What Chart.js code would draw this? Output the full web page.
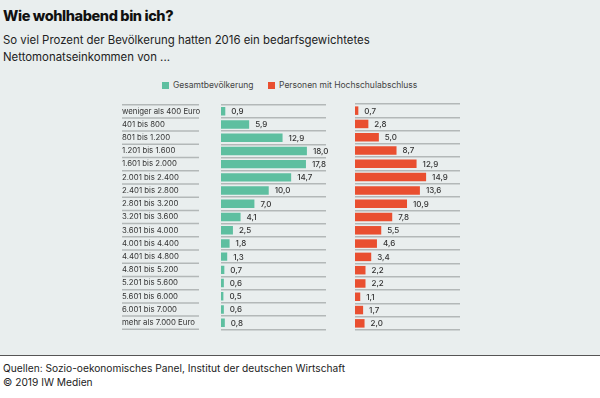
<!DOCTYPE html>
<html lang="de">
<head>
<meta charset="utf-8">
<script src="https://cdn.jsdelivr.net/npm/chart.js@4"></script>
<style>
  html, body { margin: 0; padding: 0; }
  body { width: 600px; height: 398px; background: #e9eeee; font-family: Inter, sans-serif; color: #222; position: relative; overflow: hidden; }
  h1 { position: absolute; left: 3px; top: 7px; margin: 0; font-size: 14.5px; font-weight: 800; letter-spacing: -0.4px; color: #111; }
  .sub { position: absolute; left: 3px; top: 32px; font-size: 11.4px; line-height: 17px; color: #222; }
  .legend { position: absolute; top: 80px; font-size: 8.5px; color: #444; }
  .legend span { display: inline-block; width: 7px; height: 7px; margin-right: 4px; vertical-align: -0.5px; }
  canvas { position: absolute; }
  .foot { position: absolute; left: 0; top: 355px; width: 600px; height: 43px; background: #fff; border-top: 1.5px solid #555; }
  .foot div { position: absolute; left: 3px; font-size: 10.2px; color: #222; }
</style>
</head>
<body>
<h1>Wie wohlhabend bin ich?</h1>
<div class="sub">So viel Prozent der Bevölkerung hatten 2016 ein bedarfsgewichtetes<br>Nettomonatseinkommen von ...</div>
<div class="legend" style="left:162px"><span style="background:#5ebfa0"></span>Gesamtbevölkerung</div>
<div class="legend" style="left:268px"><span style="background:#e94f30"></span>Personen mit Hochschulabschluss</div>
<canvas id="left" width="240" height="234" style="left:122px;top:100px"></canvas>
<canvas id="right" width="140" height="234" style="left:355px;top:100px"></canvas>
<div class="foot">
  <div style="top:6px">Quellen: Sozio-oekonomisches Panel, Institut der deutschen Wirtschaft</div>
  <div style="top:20px">© 2019 IW Medien</div>
</div>
<script>
const categories = ["weniger als 400 Euro", "401 bis 800", "801 bis 1.200", "1.201 bis 1.600", "1.601 bis 2.000",
  "2.001 bis 2.400", "2.401 bis 2.800", "2.801 bis 3.200", "3.201 bis 3.600", "3.601 bis 4.000",
  "4.001 bis 4.400", "4.401 bis 4.800", "4.801 bis 5.200", "5.201 bis 5.600", "5.601 bis 6.000",
  "6.001 bis 7.000", "mehr als 7.000 Euro"];
const gesamt = [0.9, 5.9, 12.9, 18.0, 17.8, 14.7, 10.0, 7.0, 4.1, 2.5, 1.8, 1.3, 0.7, 0.6, 0.5, 0.6, 0.8];
const hochschule = [0.7, 2.8, 5.0, 8.7, 12.9, 14.9, 13.6, 10.9, 7.8, 5.5, 4.6, 3.4, 2.2, 2.2, 1.1, 1.7, 2.0];

const fmt = v => v.toFixed(1).replace(".", ",");
const ruleColor = "#b3b8b8";

// value labels at the end of each bar
const valueLabels = {
  id: "valueLabels",
  afterDatasetsDraw(chart) {
    const ctx = chart.ctx;
    const values = chart.data.datasets[0].data;
    ctx.save();
    ctx.font = "500 8px Inter";
    ctx.fillStyle = "#333";
    ctx.textBaseline = "middle";
    chart.getDatasetMeta(0).data.forEach((bar, i) => {
      ctx.fillText(fmt(values[i]), bar.x + 6, bar.y + 0.5);
    });
    ctx.restore();
  }
};

// separator lines under the category labels
const labelRules = {
  id: "labelRules",
  beforeDatasetsDraw(chart) {
    const y = chart.scales.y;
    const step = (y.bottom - y.top) / categories.length;
    const ctx = chart.ctx;
    ctx.save();
    ctx.strokeStyle = ruleColor;
    ctx.lineWidth = 1.5;
    for (let i = 0; i <= categories.length; i++) {
      const yy = y.top + i * step;
      ctx.beginPath();
      ctx.moveTo(y.left, yy);
      ctx.lineTo(y.left + 77, yy);
      ctx.stroke();
    }
    ctx.restore();
  }
};

function makeChart(id, label, data, color, axisWidth, plugins) {
  return new Chart(document.getElementById(id), {
    type: "bar",
    data: {
      labels: categories,
      datasets: [{ label, data, backgroundColor: color, barPercentage: 0.64, categoryPercentage: 1 }]
    },
    options: {
      indexAxis: "y",
      responsive: false,
      animation: false,
      layout: { padding: { top: 4, bottom: 4, right: id === "left" ? 36 : 35 } },
      plugins: { legend: { display: false }, tooltip: { enabled: false } },
      scales: {
        x: { display: false, min: 0, max: 22 },
        y: {
          grid: { color: ruleColor, lineWidth: 1.5, drawTicks: false },
          border: { display: false },
          ticks: {
            display: axisWidth > 0,
            crossAlign: "far",
            padding: 0,
            color: "#333",
            font: { family: "Inter", size: 7.8 }
          },
          afterFit(scale) { scale.width = axisWidth; }
        }
      }
    },
    plugins
  });
}

makeChart("left", "Gesamtbevölkerung", gesamt, "#5ebfa0", 99, [valueLabels, labelRules]);
makeChart("right", "Personen mit Hochschulabschluss", hochschule, "#e94f30", 0, [valueLabels]);
</script>
</body>
</html>
